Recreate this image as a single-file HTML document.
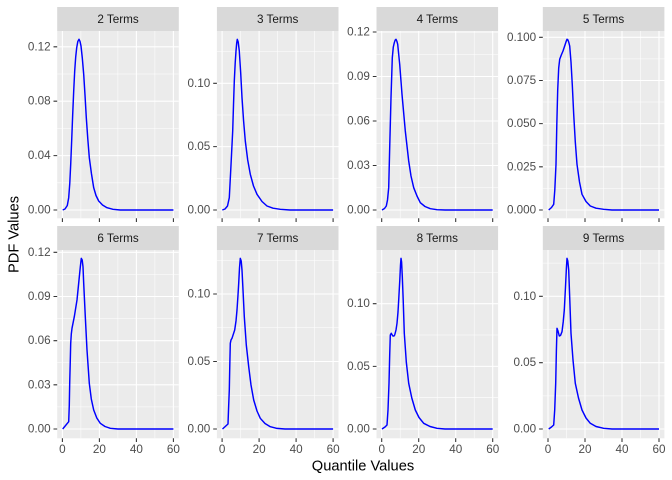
<!DOCTYPE html>
<html><head><meta charset="utf-8"><style>
html,body{margin:0;padding:0;background:#fff;}
svg{display:block;font-family:"Liberation Sans",Arial,sans-serif;}
.pn{fill:#EBEBEB}
.st{fill:#D9D9D9}
.mj{stroke:#fff;stroke-width:1.07;fill:none}
.mn{stroke:#fff;stroke-width:0.53;fill:none}
.tk{stroke:#333;stroke-width:1.07}
.yl{font-size:11.7px;fill:#4D4D4D;text-anchor:end;dominant-baseline:central}
.xl{font-size:11.7px;fill:#4D4D4D;text-anchor:middle}
.sl{font-size:11.7px;fill:#1A1A1A;text-anchor:middle}
.cv{stroke:#0000FF;stroke-width:1.45;fill:none;stroke-linejoin:round;stroke-linecap:butt}
</style></head><body>
<svg width="672" height="480" viewBox="0 0 672 480" xmlns="http://www.w3.org/2000/svg">
<rect width="672" height="480" fill="#fff"/>

<!-- ============ ROW 1 ============ -->
<!-- Panel 1 -->
<rect class="st" x="57.2" y="7" width="121.6" height="24"/>
<text class="sl" x="118" y="23.2">2 Terms</text>
<rect class="pn" x="57.2" y="31" width="121.6" height="187.3"/>
<g class="mn">
<path d="M57.2,182.8H178.8M57.2,128.4H178.8M57.2,74H178.8"/>
<path d="M80.9,31V218.3M117.9,31V218.3M154.9,31V218.3"/>
</g>
<g class="mj">
<path d="M57.2,210H178.8M57.2,155.6H178.8M57.2,101.2H178.8M57.2,46.8H178.8"/>
<path d="M62.4,31V218.3M99.4,31V218.3M136.4,31V218.3M173.4,31V218.3"/>
</g>
<path class="cv" d="M62.7,210 L65,209 L67.3,205.5 L68.7,197.7 L69.8,183 L70.7,164.3 L71.7,140 L72.7,114.3 L73.7,91 L74.7,71 L75.7,57 L76.7,47.7 L77.8,41.5 L79,39.3 L80,41.3 L81,46 L82.3,58 L83.7,74.3 L85,95 L86.3,117.7 L87.8,139 L89.3,157.7 L91.5,174 L93.7,187.7 L96,195.5 L98.7,201 L102.5,205 L107,207.7 L113,209.3 L120.3,210 L173.4,210"/>
<g class="tk"><path d="M53.5,210H57.2M53.5,155.6H57.2M53.5,101.2H57.2M53.5,46.8H57.2"/>
<path d="M62.4,218.3v3.7M99.4,218.3v3.7M136.4,218.3v3.7M173.4,218.3v3.7"/></g>
<text class="yl" x="50.6" y="210">0.00</text>
<text class="yl" x="50.6" y="155.6">0.04</text>
<text class="yl" x="50.6" y="101.2">0.08</text>
<text class="yl" x="50.6" y="46.8">0.12</text>

<!-- Panel 2 -->
<rect class="st" x="216.9" y="7" width="121.6" height="24"/>
<text class="sl" x="277.7" y="23.2">3 Terms</text>
<rect class="pn" x="216.9" y="31" width="121.6" height="187.3"/>
<g class="mn">
<path d="M216.9,178.3H338.5M216.9,115H338.5M216.9,51.6H338.5"/>
<path d="M240.6,31V218.3M277.6,31V218.3M314.6,31V218.3"/>
</g>
<g class="mj">
<path d="M216.9,210H338.5M216.9,146.6H338.5M216.9,83.3H338.5"/>
<path d="M222.1,31V218.3M259.1,31V218.3M296.1,31V218.3M333.1,31V218.3"/>
</g>
<path class="cv" d="M222.3,210 L225,209 L227.5,206 L229.3,197.7 L231,165 L232.7,131 L233.5,105 L234.3,81 L235.2,63 L236,51 L236.7,43 L237.3,39.3 L238.2,42 L239.3,51 L240.7,73 L242,97.7 L243.6,121 L245.3,141 L247.7,160 L250.3,174.3 L253.5,186 L257,194.3 L262,201.5 L267,206 L273,208.2 L280.3,209.3 L290,210 L333.1,210"/>
<g class="tk"><path d="M213.2,210H216.9M213.2,146.6H216.9M213.2,83.3H216.9"/>
<path d="M222.1,218.3v3.7M259.1,218.3v3.7M296.1,218.3v3.7M333.1,218.3v3.7"/></g>
<text class="yl" x="210.3" y="210">0.00</text>
<text class="yl" x="210.3" y="146.6">0.05</text>
<text class="yl" x="210.3" y="83.3">0.10</text>

<!-- Panel 3 -->
<rect class="st" x="376.5" y="7" width="121.6" height="24"/>
<text class="sl" x="437.3" y="23.2">4 Terms</text>
<rect class="pn" x="376.5" y="31" width="121.6" height="187.3"/>
<g class="mn">
<path d="M376.5,187.75H498.1M376.5,143.25H498.1M376.5,98.75H498.1M376.5,54.25H498.1"/>
<path d="M400.2,31V218.3M437.2,31V218.3M474.2,31V218.3"/>
</g>
<g class="mj">
<path d="M376.5,210H498.1M376.5,165.5H498.1M376.5,121H498.1M376.5,76.5H498.1M376.5,32H498.1"/>
<path d="M381.7,31V218.3M418.7,31V218.3M455.7,31V218.3M492.7,31V218.3"/>
</g>
<path class="cv" d="M382,210 L384.5,208.5 L386.3,206 L387.5,200 L388.7,187.7 L389.7,147.7 L391,97.7 L392.3,57.7 L393.3,47 L394.3,42.7 L395.2,40 L396,39.3 L396.8,41 L397.7,44.3 L399.7,64.3 L402,94.3 L405.3,131 L408.7,161 L411,176 L413.7,187.7 L417,196 L420.3,202.7 L425,206.5 L430.3,208.7 L437,209.7 L445,210 L492.7,210"/>
<g class="tk"><path d="M372.8,210H376.5M372.8,165.5H376.5M372.8,121H376.5M372.8,76.5H376.5M372.8,32H376.5"/>
<path d="M381.7,218.3v3.7M418.7,218.3v3.7M455.7,218.3v3.7M492.7,218.3v3.7"/></g>
<text class="yl" x="369.9" y="210">0.00</text>
<text class="yl" x="369.9" y="165.5">0.03</text>
<text class="yl" x="369.9" y="121">0.06</text>
<text class="yl" x="369.9" y="76.5">0.09</text>
<text class="yl" x="369.9" y="32">0.12</text>

<!-- Panel 4 -->
<rect class="st" x="542.8" y="7" width="121.6" height="24"/>
<text class="sl" x="603.6" y="23.2">5 Terms</text>
<rect class="pn" x="542.8" y="31" width="121.6" height="187.3"/>
<g class="mn">
<path d="M542.8,188.4H664.4M542.8,145.2H664.4M542.8,102H664.4M542.8,58.9H664.4"/>
<path d="M566.5,31V218.3M603.5,31V218.3M640.5,31V218.3"/>
</g>
<g class="mj">
<path d="M542.8,210H664.4M542.8,166.8H664.4M542.8,123.6H664.4M542.8,80.5H664.4M542.8,37.3H664.4"/>
<path d="M548,31V218.3M585,31V218.3M622,31V218.3M659,31V218.3"/>
</g>
<path class="cv" d="M548.7,210 L551.5,207.5 L553.7,204.3 L554.8,190 L556,164.3 L556.8,125 L557.7,90 L558.7,68 L559.7,59.3 L561.3,55 L563,51 L565,45 L566.3,41 L567,39.3 L567.8,39.8 L568.7,42 L569.7,46 L571,62 L572.3,85 L573.7,114.3 L575.3,142 L577,164.3 L579.5,182 L582,194.3 L586,201.5 L590.3,206 L596,208.2 L603.7,209.3 L612,210 L659,210"/>
<g class="tk"><path d="M539.1,210H542.8M539.1,166.8H542.8M539.1,123.6H542.8M539.1,80.5H542.8M539.1,37.3H542.8"/>
<path d="M548,218.3v3.7M585,218.3v3.7M622,218.3v3.7M659,218.3v3.7"/></g>
<text class="yl" x="536.2" y="210">0.000</text>
<text class="yl" x="536.2" y="166.8">0.025</text>
<text class="yl" x="536.2" y="123.6">0.050</text>
<text class="yl" x="536.2" y="80.5">0.075</text>
<text class="yl" x="536.2" y="37.3">0.100</text>

<!-- ============ ROW 2 ============ -->
<!-- Panel 5 -->
<rect class="st" x="57.2" y="226" width="121.6" height="24"/>
<text class="sl" x="118" y="242.2">6 Terms</text>
<rect class="pn" x="57.2" y="250" width="121.6" height="188.3"/>
<g class="mn">
<path d="M57.2,406.9H178.8M57.2,362.75H178.8M57.2,318.6H178.8M57.2,274.4H178.8"/>
<path d="M80.9,250V438.3M117.9,250V438.3M154.9,250V438.3"/>
</g>
<g class="mj">
<path d="M57.2,429H178.8M57.2,384.8H178.8M57.2,340.7H178.8M57.2,296.5H178.8M57.2,252.3H178.8"/>
<path d="M62.4,250V438.3M99.4,250V438.3M136.4,250V438.3M173.4,250V438.3"/>
</g>
<path class="cv" d="M62.7,429 L68.7,421.7 L69.3,405 L69.7,383.3 L70.3,360 L70.7,343.3 L71.3,334 L72,328.3 L74.3,316.7 L77,300 L79,280 L80.3,267 L81.3,258.3 L82.2,260 L83,266.7 L83.7,283.3 L85.3,316.7 L87,350 L89.3,383.3 L91.3,399 L93.7,410 L96.8,418 L100.3,423.3 L105,426.5 L110.3,428.3 L118,429 L173.4,429"/>
<g class="tk"><path d="M53.5,429H57.2M53.5,384.8H57.2M53.5,340.7H57.2M53.5,296.5H57.2M53.5,252.3H57.2"/>
<path d="M62.4,438.3v3.7M99.4,438.3v3.7M136.4,438.3v3.7M173.4,438.3v3.7"/></g>
<text class="yl" x="50.6" y="429">0.00</text>
<text class="yl" x="50.6" y="384.8">0.03</text>
<text class="yl" x="50.6" y="340.7">0.06</text>
<text class="yl" x="50.6" y="296.5">0.09</text>
<text class="yl" x="50.6" y="252.3">0.12</text>
<text class="xl" x="62.4" y="453">0</text>
<text class="xl" x="99.4" y="453">20</text>
<text class="xl" x="136.4" y="453">40</text>
<text class="xl" x="173.4" y="453">60</text>

<!-- Panel 6 -->
<rect class="st" x="216.9" y="226" width="121.6" height="24"/>
<text class="sl" x="277.7" y="242.2">7 Terms</text>
<rect class="pn" x="216.9" y="250" width="121.6" height="188.3"/>
<g class="mn">
<path d="M216.9,395.25H338.5M216.9,327.75H338.5M216.9,260.25H338.5"/>
<path d="M240.6,250V438.3M277.6,250V438.3M314.6,250V438.3"/>
</g>
<g class="mj">
<path d="M216.9,429H338.5M216.9,361.5H338.5M216.9,294H338.5"/>
<path d="M222.1,250V438.3M259.1,250V438.3M296.1,250V438.3M333.1,250V438.3"/>
</g>
<path class="cv" d="M222.5,429 L228,424 L228.7,405 L229.3,390 L229.8,365 L230.3,343.3 L231,340 L232,338.3 L234.7,330 L236,321 L237,310 L238,295 L238.7,283.3 L239.5,268 L240.3,258.3 L241.2,261 L242,270 L243,290 L244.3,316.7 L246.3,345 L248.7,366.7 L251,385 L253.7,400 L257,411 L260.3,418.3 L265,423.5 L270.3,426.7 L277,428.4 L285,429 L333.1,429"/>
<g class="tk"><path d="M213.2,429H216.9M213.2,361.5H216.9M213.2,294H216.9"/>
<path d="M222.1,438.3v3.7M259.1,438.3v3.7M296.1,438.3v3.7M333.1,438.3v3.7"/></g>
<text class="yl" x="210.3" y="429">0.00</text>
<text class="yl" x="210.3" y="361.5">0.05</text>
<text class="yl" x="210.3" y="294">0.10</text>
<text class="xl" x="222.1" y="453">0</text>
<text class="xl" x="259.1" y="453">20</text>
<text class="xl" x="296.1" y="453">40</text>
<text class="xl" x="333.1" y="453">60</text>

<!-- Panel 7 -->
<rect class="st" x="376.5" y="226" width="121.6" height="24"/>
<text class="sl" x="437.3" y="242.2">8 Terms</text>
<rect class="pn" x="376.5" y="250" width="121.6" height="188.3"/>
<g class="mn">
<path d="M376.5,397.7H498.1M376.5,335H498.1M376.5,272.4H498.1"/>
<path d="M400.2,250V438.3M437.2,250V438.3M474.2,250V438.3"/>
</g>
<g class="mj">
<path d="M376.5,429H498.1M376.5,366.4H498.1M376.5,303.7H498.1"/>
<path d="M381.7,250V438.3M418.7,250V438.3M455.7,250V438.3M492.7,250V438.3"/>
</g>
<path class="cv" d="M382,429 L385,427 L387,425 L388,410 L389,383.3 L389.7,355 L390.3,335 L391.3,333.3 L392.2,335 L393,336 L394,336 L394.7,335 L396,330 L397,323.3 L398,312 L398.7,300 L399.8,280 L400.5,265 L401,258.3 L401.6,262 L402.3,276.7 L403.2,300 L404.3,333.3 L406.3,362 L408.7,383.3 L411.8,398 L415.3,410 L419,417.5 L423.7,423.3 L430,426.5 L437,428.3 L445,429 L492.7,429"/>
<g class="tk"><path d="M372.8,429H376.5M372.8,366.4H376.5M372.8,303.7H376.5"/>
<path d="M381.7,438.3v3.7M418.7,438.3v3.7M455.7,438.3v3.7M492.7,438.3v3.7"/></g>
<text class="yl" x="369.9" y="429">0.00</text>
<text class="yl" x="369.9" y="366.4">0.05</text>
<text class="yl" x="369.9" y="303.7">0.10</text>
<text class="xl" x="381.7" y="453">0</text>
<text class="xl" x="418.7" y="453">20</text>
<text class="xl" x="455.7" y="453">40</text>
<text class="xl" x="492.7" y="453">60</text>

<!-- Panel 8 -->
<rect class="st" x="542.8" y="226" width="121.6" height="24"/>
<text class="sl" x="603.6" y="242.2">9 Terms</text>
<rect class="pn" x="542.8" y="250" width="121.6" height="188.3"/>
<g class="mn">
<path d="M542.8,395.85H664.4M542.8,329.5H664.4M542.8,263.1H664.4"/>
<path d="M566.5,250V438.3M603.5,250V438.3M640.5,250V438.3"/>
</g>
<g class="mj">
<path d="M542.8,429H664.4M542.8,362.7H664.4M542.8,296.3H664.4"/>
<path d="M548,250V438.3M585,250V438.3M622,250V438.3M659,250V438.3"/>
</g>
<path class="cv" d="M548.7,429 L551.5,427 L553.7,425 L554.7,410 L555.7,383.3 L556.4,350 L557,328.3 L558,331 L559.3,336 L560.5,335.5 L562,331.7 L563.2,322 L564.3,310 L565.5,287 L566.4,268 L567,258.3 L567.8,261 L568.7,270 L569.8,300 L571,333.3 L573,360 L575.3,383.3 L578.5,398 L582,410 L586,418 L590.3,423.3 L596,426.5 L603.7,428.3 L612,429 L659,429"/>
<g class="tk"><path d="M539.1,429H542.8M539.1,362.7H542.8M539.1,296.3H542.8"/>
<path d="M548,438.3v3.7M585,438.3v3.7M622,438.3v3.7M659,438.3v3.7"/></g>
<text class="yl" x="536.2" y="429">0.00</text>
<text class="yl" x="536.2" y="362.7">0.05</text>
<text class="yl" x="536.2" y="296.3">0.10</text>
<text class="xl" x="548" y="453">0</text>
<text class="xl" x="585" y="453">20</text>
<text class="xl" x="622" y="453">40</text>
<text class="xl" x="659" y="453">60</text>

<!-- Axis titles -->
<text x="363" y="470.5" font-size="14.67" fill="#000" text-anchor="middle">Quantile Values</text>
<text transform="translate(18.3,234.5) rotate(-90)" font-size="14.67" fill="#000" text-anchor="middle">PDF Values</text>
</svg>
</body></html>
